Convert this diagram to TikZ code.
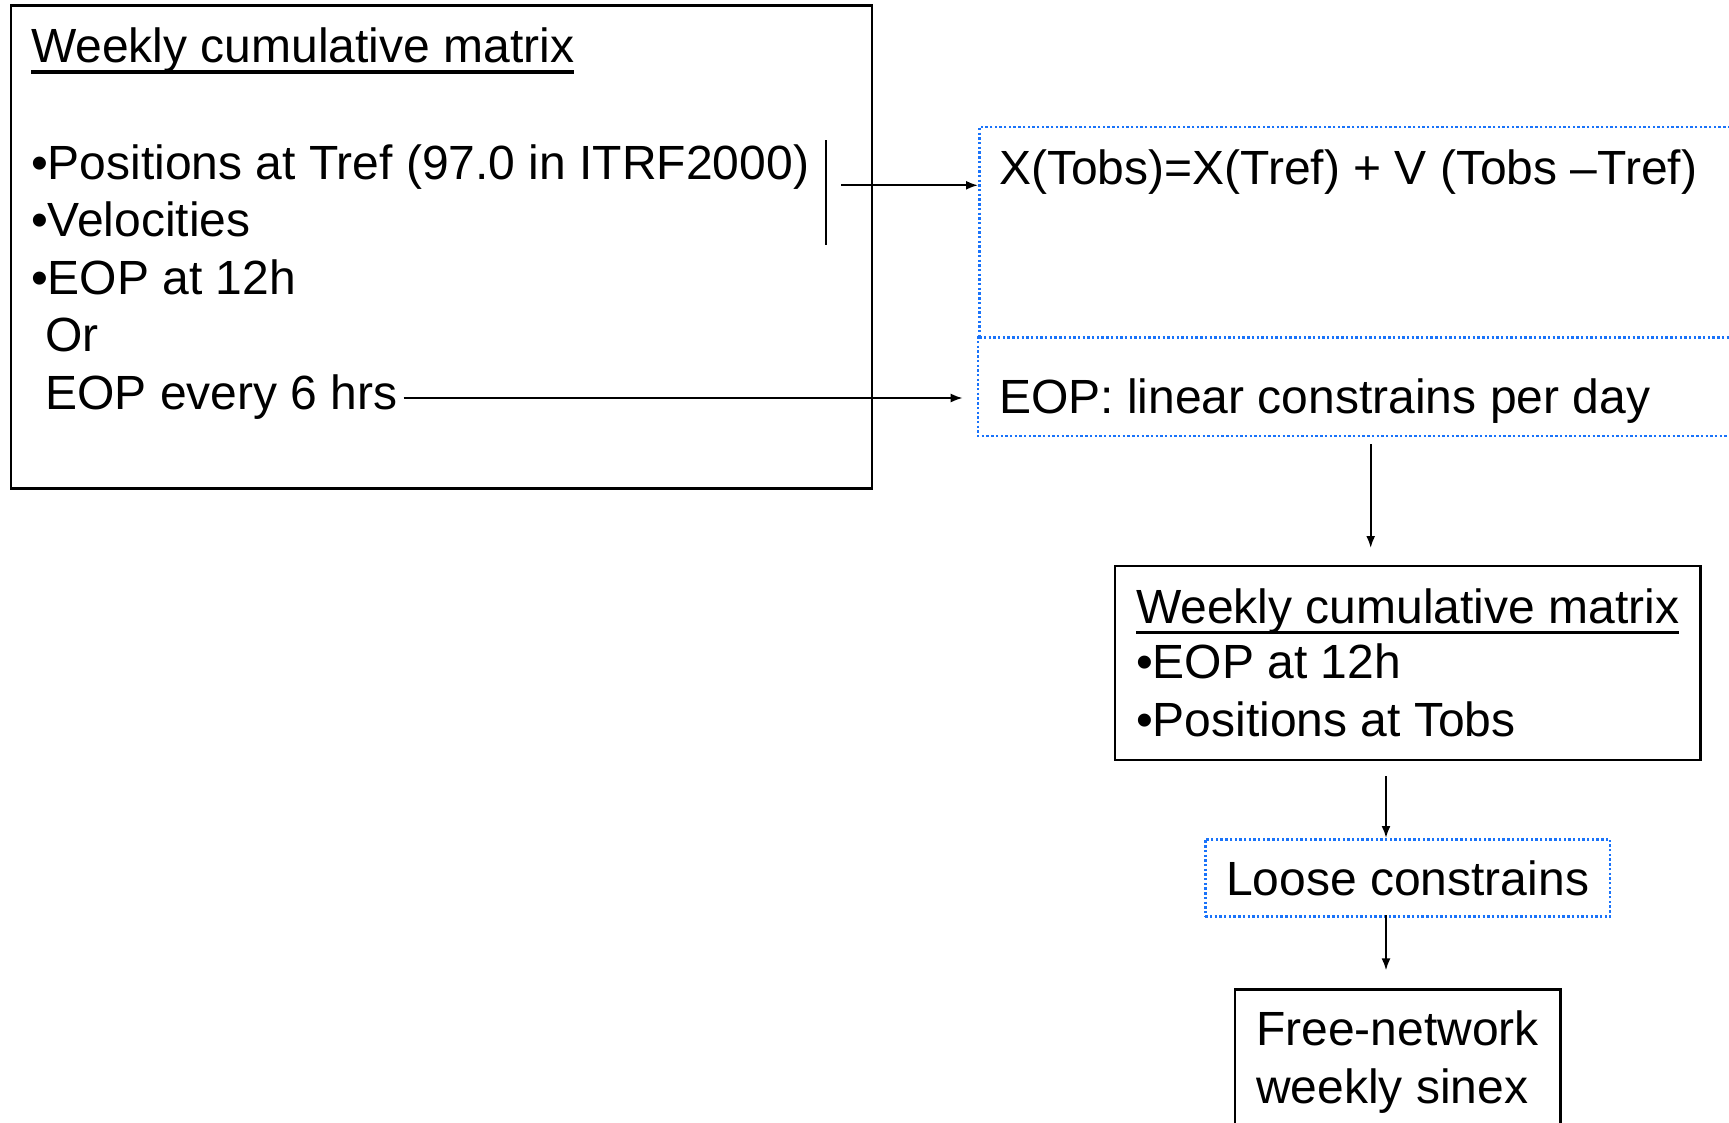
\documentclass[tikz,border=0pt]{standalone}
\usepackage{fontspec}
\setmainfont{Liberation Sans}
\usetikzlibrary{arrows.meta}
\definecolor{dotblue}{RGB}{25,115,250}
\newcommand\myul[1]{\setbox0\hbox{#1}\rlap{\rule[-11pt]{\wd0}{3.5pt}}\box0}
\begin{document}
\begin{tikzpicture}[x=1pt,y=-1pt,
 every node/.style={font=\fontsize{48}{57.6}\selectfont},
 txt/.style={anchor=base west, inner sep=0pt},
 solidbox/.style={draw, line width=2.5pt, anchor=north west, inner sep=0pt},
 dotline/.style={draw=dotblue, line width=2.5pt, dash pattern=on 2.4pt off 2.3pt},
 dotbox/.style={dotline, anchor=north west, inner sep=0pt},
 arr/.style={line width=2pt, -{Latex[length=12pt,width=9pt]}}]
\useasboundingbox (0,0) rectangle (1729,1122);
% left box
\node[solidbox, minimum width=861pt, minimum height=483pt] (leftbox) at (9.9,4.4) {};
\node[txt] (lhead) at (30.9,62.9) {\myul{Weekly cumulative matrix}};
\node[txt] (l1) at (30.9,179.7) {•Positions at Tref (97.0 in ITRF2000)};
\node[txt] (l2) at (30.9,236) {•Velocities};
\node[txt] (l3) at (30.9,294.4) {•EOP at 12h};
\node[txt] (l4) at (45.2,351.8) {Or};
\node[txt] (l5) at (45.2,409) {EOP every 6 hrs};
\coordinate (bartop) at (826,140);
\coordinate (barbot) at (826,245);
\draw[line width=2pt] (bartop) -- (barbot);
% dotted boxes
\node[dotbox, minimum width=900pt, minimum height=210.6pt] (topdot) at (978,125.7) {};
\node[anchor=north west, inner sep=0pt, minimum width=900pt, minimum height=99.3pt] (botdot) at (978,336.3) {};
\draw[dotline] (botdot.north west) -- (botdot.south west) -- (botdot.south east);
\node[txt] (xform) at (999,184) {X(Tobs)=X(Tref) + V (Tobs –Tref)};
\node[txt] (eoplin) at (999,413.5) {EOP: linear constrains per day};
\coordinate (a1) at (841.4,185.3);
\draw[arr] (a1) -- (a1 -| topdot.west);
\coordinate (a2) at (403.6,398);
\coordinate (a2e) at (962.7,398);
\draw[arr] (a2) -- (a2e);
% second box
\node[solidbox, minimum width=585.6pt, minimum height=194.1pt] (box2) at (1113.7,564.6) {};
\node[txt] (r1) at (1135.8,623) {\myul{Weekly cumulative matrix}};
\node[txt] (r2) at (1135.8,678) {•EOP at 12h};
\node[txt] (r3) at (1135.8,736.6) {•Positions at Tobs};
\coordinate (d1) at (1370.7,444.4);
\coordinate (d1e) at (1370.7,548);
\draw[arr] (d1) -- (d1e);
% loose
\node[dotbox, minimum width=404.9pt, minimum height=77.3pt] (loose) at (1204,838) {};
\node[txt] (lc) at (1226,895.4) {Loose constrains};
\coordinate (d2) at (1386,776.3);
\draw[arr] (d2) -- (d2 |- loose.north);
% free
\node[solidbox, minimum width=325.3pt, minimum height=200pt] (free) at (1233.9,988) {};
\node[txt] (f1) at (1256,1045.4) {Free-network};
\node[txt] (f2) at (1256,1103.8) {weekly sinex};
\coordinate (d3) at (1386,915.3);
\coordinate (d3e) at (1386,970.4);
\draw[arr] (d3) -- (d3e);
\end{tikzpicture}
\end{document}
